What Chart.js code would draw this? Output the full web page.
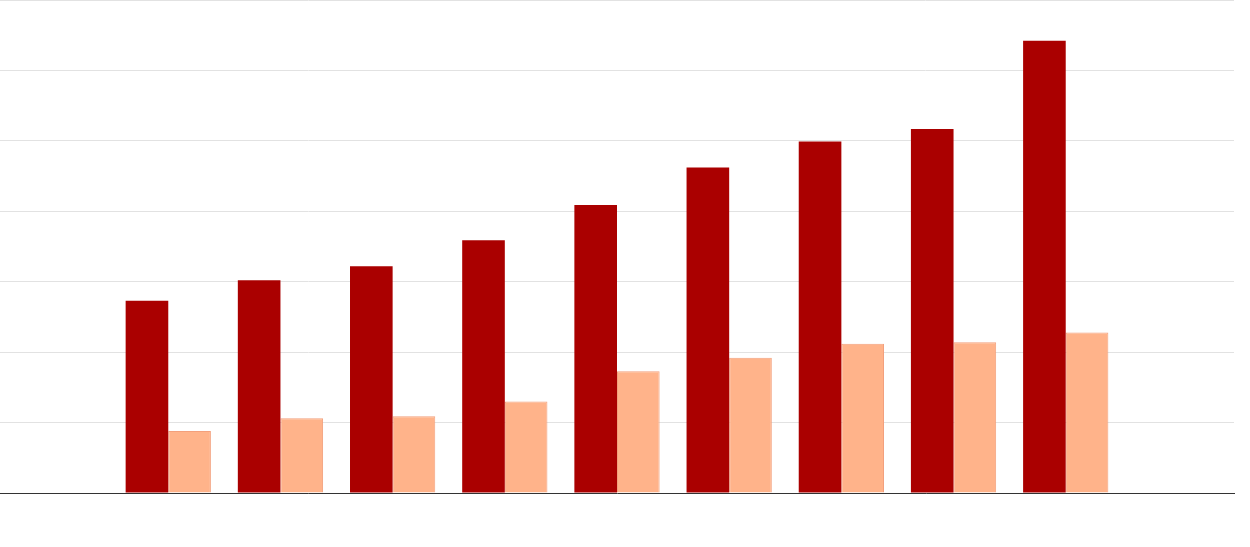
<!DOCTYPE html>
<html>
<head>
<meta charset="utf-8">
<script src="https://cdn.jsdelivr.net/npm/chart.js@4"></script>
<style>
    html, body { margin: 0; padding: 0; background: #fff; }
    #chart { display: block; }
</style>
</head>
<body>
<canvas id="chart" width="1250" height="547"></canvas>
<script>
const categories = ['', '1', '2', '3', '4', '5', '6', '7', '8', '9', ''];
const darkValues = [null, 2.73, 3.02, 3.22, 3.59, 4.09, 4.62, 4.99, 5.17, 6.42, null];
const lightValues = [null, 0.88, 1.06, 1.09, 1.30, 1.73, 1.92, 2.12, 2.14, 2.28, null];

new Chart(document.getElementById('chart'), {
    type: 'bar',
    data: {
        labels: categories,
        datasets: [
            {
                data: darkValues,
                backgroundColor: '#aa0000',
                borderWidth: 0,
                categoryPercentage: 0.76,
                barPercentage: 1,
            },
            {
                data: lightValues,
                backgroundColor: '#ffb38a',
                borderColor: '#f3a07c',
                borderWidth: 1,
                categoryPercentage: 0.76,
                barPercentage: 1,
            },
        ],
    },
    options: {
        responsive: false,
        animation: false,
        devicePixelRatio: 1,
        layout: { padding: { left: -4, right: 16, top: 0, bottom: 46 } },
        plugins: {
            legend: { display: false },
            tooltip: { enabled: false },
        },
        scales: {
            x: {
                grid: { display: false },
                ticks: { display: false },
                border: { color: '#333', width: 1 },
            },
            y: {
                min: 0,
                max: 7,
                grid: { color: '#e2e2e2', drawTicks: false },
                ticks: { display: false, stepSize: 1 },
                border: { display: false },
            },
        },
    },
});
</script>
</body>
</html>
